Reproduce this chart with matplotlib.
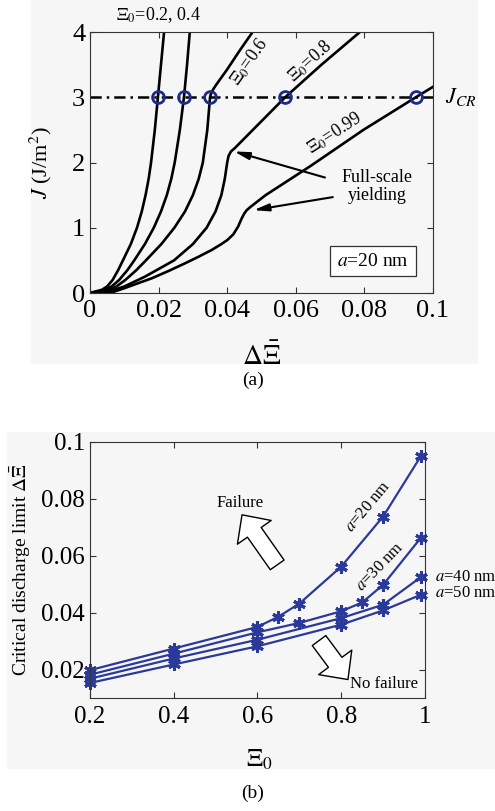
import matplotlib
matplotlib.use('Agg')
import matplotlib.pyplot as plt
from matplotlib.patches import Rectangle

plt.rcParams['font.family'] = ['Liberation Serif', 'DejaVu Serif']
plt.rcParams['mathtext.fontset'] = 'stix'

# (a) J vs discharge increment, a = 20 nm, one curve per initial state Xi0
dxi_02 = [0, 0.0035, 0.0050, 0.0066, 0.0082, 0.0096, 0.0119, 0.0137, 0.0151, 0.0162, 0.0171, 0.0178,
          0.0189, 0.0198, 0.0207, 0.0216]
J_02 = [0, 0.05, 0.1, 0.2, 0.35, 0.5, 0.75, 1.0, 1.25, 1.5, 1.75, 2.0, 2.5, 3.0, 3.5, 4.0]
dxi_04 = [0, 0.0045, 0.0063, 0.0085, 0.0109, 0.0129, 0.0160, 0.0186, 0.0207, 0.0224, 0.0237, 0.0247,
          0.0262, 0.0274, 0.0283, 0.0291]
J_04 = [0, 0.05, 0.1, 0.2, 0.35, 0.5, 0.75, 1.0, 1.25, 1.5, 1.75, 2.0, 2.5, 3.0, 3.5, 4.0]
dxi_06 = [0, 0.0055, 0.0077, 0.0103, 0.0135, 0.0163, 0.0208, 0.0246, 0.0277, 0.0300, 0.0317, 0.0329,
          0.0342, 0.0350, 0.0353, 0.0359, 0.0369, 0.0399, 0.0437, 0.0474]
J_06 = [0, 0.05, 0.1, 0.2, 0.35, 0.5, 0.75, 1.0, 1.25, 1.5, 1.75, 2.0,
        2.5, 3.0, 3.06, 3.12, 3.2, 3.42, 3.72, 4.0]
dxi_08 = [0, 0.0070, 0.0100, 0.0160, 0.0245, 0.0300, 0.0340, 0.0366, 0.0383, 0.0393, 0.0400, 0.0404,
          0.0411, 0.0422, 0.0569, 0.0675, 0.0787]
J_08 = [0, 0.05, 0.1, 0.25, 0.5, 0.75, 1.0, 1.25, 1.5, 1.75, 2.0, 2.1,
        2.17, 2.22, 3.0, 3.5, 4.0]
dxi_099 = [0, 0.0070, 0.0102, 0.0140, 0.0180, 0.0230, 0.0277, 0.0318, 0.0355, 0.0380, 0.0400, 0.0418,
           0.0432, 0.0442, 0.0450, 0.0457, 0.0468, 0.0512, 0.0644, 0.0797, 0.0950, 0.1]
J_099 = [0, 0.02, 0.077, 0.15, 0.225, 0.34, 0.455, 0.56, 0.66, 0.74, 0.81, 0.9,
         1.02, 1.14, 1.22, 1.27, 1.32, 1.5, 1.95, 2.5, 3.0, 3.16]
cross_dxi = [0.0198, 0.0274, 0.0350, 0.0569, 0.0950]
J_CR = 3.0

# (b) critical discharge limit vs Xi0
xi0_20 = [0.2, 0.4, 0.6, 0.65, 0.7, 0.8, 0.9, 0.99]
lim_20 = [0.0198, 0.0274, 0.0350, 0.0386, 0.0432, 0.0562, 0.0738, 0.0950]
xi0_30 = [0.2, 0.4, 0.6, 0.7, 0.8, 0.85, 0.9, 0.99]
lim_30 = [0.0182, 0.0256, 0.0331, 0.0364, 0.0405, 0.0436, 0.0498, 0.0663]
xi0_40 = [0.2, 0.4, 0.6, 0.8, 0.9, 0.99]
lim_40 = [0.0168, 0.0239, 0.0305, 0.0381, 0.0428, 0.0525]
xi0_50 = [0.2, 0.4, 0.6, 0.8, 0.9, 0.99]
lim_50 = [0.0153, 0.0218, 0.0282, 0.0358, 0.0408, 0.0463]

blue = '#2b3a9a'
serif = 'Liberation Serif'

fig = plt.figure(figsize=(4.95, 8.11), dpi=100)
fig.patches.append(Rectangle((31/495, 1-363/811), 446/495, 363/811, transform=fig.transFigure,
                             color='#f6f6f6', zorder=-10))
fig.patches.append(Rectangle((7/495, 1-768/811), 488/495, 336/811, transform=fig.transFigure,
                             color='#f6f6f6', zorder=-10))

# ---- panel (a)
ax1 = fig.add_axes([0.1818, 0.6387, 0.6929, 0.3218])
ax1.patch.set_alpha(0)
for xs, ys in [(dxi_02, J_02), (dxi_04, J_04), (dxi_06, J_06), (dxi_08, J_08), (dxi_099, J_099)]:
    ax1.plot(xs, ys, color='k', lw=1.9, solid_joinstyle='round')
ax1.plot([0, 0.1], [J_CR, J_CR], color='k', lw=1.8, linestyle=(0, (4.5, 2, 1, 2)))
ax1.plot(cross_dxi, [J_CR]*len(cross_dxi), 'o', mfc='none', mec='#1c2a8c', mew=2, ms=8.5, zorder=5)
ax1.set_xlim(0, 0.1)
ax1.set_ylim(0, 4)
ax1.set_xticks([0, 0.02, 0.04, 0.06, 0.08, 0.1])
ax1.set_xticklabels(['0', '0.02', '0.04', '0.06', '0.08', '0.1'], fontfamily=serif)
ax1.set_yticks([0, 1, 2, 3, 4])
ax1.set_yticklabels(['0', '1', '2', '3', '4'], fontfamily=serif)
ax1.tick_params(direction='in', top=True, right=True, length=4, width=0.8, labelsize=19, color='#333333')
ax1.tick_params(axis='x', pad=5)
for s in ax1.spines.values():
    s.set_color('#333333')
ax1.set_xlabel(r'$\Delta\bar{\Xi}$', fontsize=20)
ax1.xaxis.set_label_coords(0.5, -0.19)
ax1.set_ylabel(r'$J$ (J/m$^2$)', fontsize=16)
ax1.yaxis.set_label_coords(-0.105, 0.5)

ax1.text(0.0200, 4.26, r'$\Xi_0$=0.2, 0.4', ha='center', va='center', fontsize=13, clip_on=False)
ax1.text(0.0463, 3.54, r'$\Xi_0$=0.6', ha='center', va='center', fontsize=13, rotation=55)
ax1.text(0.0641, 3.56, r'$\Xi_0$=0.8', ha='center', va='center', fontsize=13, rotation=42)
ax1.text(0.0714, 2.45, r'$\Xi_0$=0.99', ha='center', va='center', fontsize=13, rotation=33)
ax1.text(0.1035, J_CR, r'$J_{CR}$', ha='left', va='center', fontsize=16, clip_on=False)
ax1.text(0.0837, 1.63, 'Full-scale\nyielding', ha='center', va='center', fontsize=13, linespacing=1.1)
arrow_a = dict(arrowstyle='-|>,head_length=0.9,head_width=0.22', color='k', lw=1.5, shrinkA=0, shrinkB=0)
ax1.annotate('', xy=(0.0420, 2.17), xytext=(0.0685, 1.77), arrowprops=arrow_a)
ax1.annotate('', xy=(0.0477, 1.27), xytext=(0.0708, 1.47), arrowprops=arrow_a)
ax1.text(0.0825, 0.49, r'$a$=20 nm', ha='center', va='center', fontsize=14,
         bbox=dict(boxstyle='square,pad=0.35', fc='white', ec='#333333', lw=0.9))

# ---- panel (b)
ax2 = fig.add_axes([0.1818, 0.1393, 0.6768, 0.3157])
ax2.patch.set_alpha(0)
for xs, ys in [(xi0_20, lim_20), (xi0_30, lim_30), (xi0_40, lim_40), (xi0_50, lim_50)]:
    ax2.plot(xs, ys, color=blue, lw=1.6, marker=(6, 2, 0), ms=9, mew=2.2, mec=blue, clip_on=False)
ax2.set_xlim(0.2, 1.0)
ax2.set_ylim(0.01, 0.1)
ax2.set_xticks([0.2, 0.4, 0.6, 0.8, 1.0])
ax2.set_xticklabels(['0.2', '0.4', '0.6', '0.8', '1'], fontfamily=serif)
ax2.set_yticks([0.02, 0.04, 0.06, 0.08, 0.1])
ax2.set_yticklabels(['0.02', '0.04', '0.06', '0.08', '0.1'], fontfamily=serif)
ax2.tick_params(direction='in', top=True, right=True, length=4, width=0.8, labelsize=18, color='#333333')
ax2.tick_params(axis='x', pad=6)
for s in ax2.spines.values():
    s.set_color('#333333')
ax2.set_xlabel(r'$\Xi_0$', fontsize=18)
ax2.xaxis.set_label_coords(0.507, -0.195)
ax2.set_ylabel(r'Critical discharge limit $\Delta\bar{\Xi}$', fontsize=14)
ax2.yaxis.set_label_coords(-0.17, 0.5)

ax2.text(0.864, 0.0772, r'$a$=20 nm', ha='center', va='center', fontsize=12, rotation=50)
ax2.text(0.893, 0.0561, r'$a$=30 nm', ha='center', va='center', fontsize=12, rotation=46)
ax2.text(1.024, 0.0525, r'$a$=40 nm', ha='left', va='center', fontsize=12, clip_on=False)
ax2.text(1.024, 0.0468, r'$a$=50 nm', ha='left', va='center', fontsize=12, clip_on=False)
ax2.text(0.558, 0.0786, 'Failure', ha='center', va='center', fontsize=12)
ax2.text(0.902, 0.0151, 'No failure', ha='center', va='center', fontsize=12)
block = dict(arrowstyle='simple,head_length=0.7,head_width=1.35,tail_width=0.55', fc='white', ec='k',
             lw=1.0, mutation_scale=22, shrinkA=0, shrinkB=0)
ax2.annotate('', xy=(0.563, 0.0744), xytext=(0.647, 0.0568), arrowprops=block)
ax2.annotate('', xy=(0.816, 0.0165), xytext=(0.747, 0.0302), arrowprops=block)

fig.text(253/495, 1-380/811, '(a)', ha='center', va='center', fontsize=14)
fig.text(253/495, 1-793/811, '(b)', ha='center', va='center', fontsize=14)

fig.savefig('out.png', dpi=100)
